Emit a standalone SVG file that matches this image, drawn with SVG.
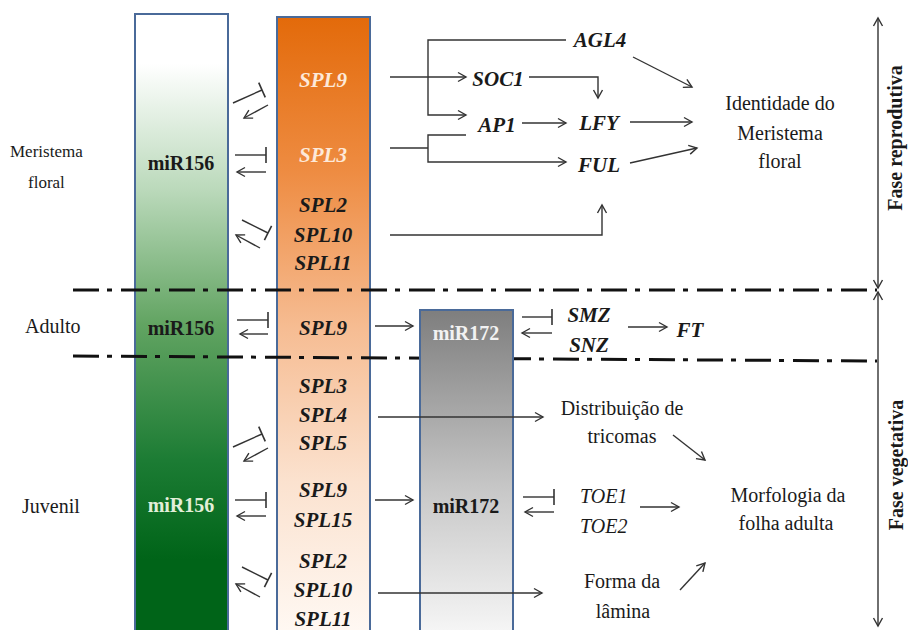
<svg xmlns="http://www.w3.org/2000/svg" width="908" height="630" viewBox="0 0 908 630">
<style>
text{font-family:"Liberation Serif","Times New Roman",serif;fill:#1a1a1a;font-size:20px}
.bi{font-weight:bold;font-style:italic;text-anchor:middle;font-size:21px}
.b{font-weight:bold;text-anchor:middle}
.rc{text-anchor:middle}
.i{font-style:italic}
.sm{font-size:17px}
.c{fill:none;stroke:#333;stroke-width:1.4}
.a{marker-end:url(#ah)}
.t{marker-end:url(#tb)}
.dd{fill:none;stroke:#111;stroke-width:3;stroke-dasharray:26 8 5 9}
.box{stroke:#4a6a99;stroke-width:2}
</style>
<defs>
<linearGradient id="gG" x1="0" y1="0" x2="0" y2="1">
<stop offset="0" stop-color="#ffffff"/>
<stop offset="0.08" stop-color="#ffffff"/>
<stop offset="0.28" stop-color="#bcdabc"/>
<stop offset="0.5" stop-color="#62a462"/>
<stop offset="0.72" stop-color="#1c7c34"/>
<stop offset="0.88" stop-color="#006418"/>
<stop offset="1" stop-color="#006418"/>
</linearGradient>
<linearGradient id="gO" x1="0" y1="0" x2="0" y2="1">
<stop offset="0" stop-color="#e36a0a"/>
<stop offset="0.25" stop-color="#ee8c42"/>
<stop offset="0.5" stop-color="#f6bc92"/>
<stop offset="0.75" stop-color="#fbe2cf"/>
<stop offset="1" stop-color="#fff9f4"/>
</linearGradient>
<linearGradient id="gY" x1="0" y1="0" x2="0" y2="1">
<stop offset="0" stop-color="#7e7e7e"/>
<stop offset="0.55" stop-color="#c8c8c8"/>
<stop offset="1" stop-color="#f8f8f8"/>
</linearGradient>
<marker id="ah" markerWidth="12" markerHeight="12" refX="10" refY="6" orient="auto-start-reverse" markerUnits="userSpaceOnUse">
<path d="M2,1.5 L10,6 L2,10.5" fill="none" stroke="#333" stroke-width="1.4"/>
</marker>
<marker id="tb" markerWidth="4" markerHeight="18" refX="2" refY="9" orient="auto" markerUnits="userSpaceOnUse">
<line x1="2" y1="1" x2="2" y2="17" stroke="#333" stroke-width="1.6"/>
</marker>
</defs>

<g id="box-miR156">
<rect class="box" x="135" y="14" width="93" height="620" fill="url(#gG)"/>
<text class="b" x="181" y="170">miR156</text>
<text class="b" x="181" y="335">miR156</text>
<text class="b" x="181" y="512" style="fill:#e2efd9">miR156</text>
</g>

<g id="box-SPL">
<rect class="box" x="277" y="17" width="93" height="620" fill="url(#gO)"/>
<text class="bi" x="323" y="87" style="fill:#fde9d9">SPL9</text>
<text class="bi" x="323" y="162" style="fill:#fde9d9">SPL3</text>
<text class="bi" x="323" y="212">SPL2</text>
<text class="bi" x="323" y="242">SPL10</text>
<text class="bi" x="323" y="270">SPL11</text>
<text class="bi" x="323" y="335">SPL9</text>
<text class="bi" x="323" y="393">SPL3</text>
<text class="bi" x="323" y="422">SPL4</text>
<text class="bi" x="323" y="450">SPL5</text>
<text class="bi" x="323" y="497">SPL9</text>
<text class="bi" x="323" y="527">SPL15</text>
<text class="bi" x="323" y="568">SPL2</text>
<text class="bi" x="323" y="597">SPL10</text>
<text class="bi" x="323" y="626">SPL11</text>
</g>

<g id="phase-lines">
<line class="dd" x1="73" y1="290" x2="877" y2="290"/>
<line class="dd" x1="73" y1="356" x2="877" y2="361"/>
</g>

<g id="box-miR172">
<rect class="box" x="420" y="310" width="93" height="330" fill="url(#gY)"/>
<text class="b" x="466" y="340" style="fill:#f2f2f2">miR172</text>
<text class="b" x="466" y="513">miR172</text>
</g>

<g id="labels-left">
<text class="sm" x="10" y="157">Meristema</text>
<text class="sm" x="28" y="188">floral</text>
<text x="25" y="333">Adulto</text>
<text x="22" y="513">Juvenil</text>
</g>

<g id="genes-reprod">
<text class="bi" x="600" y="47">AGL4</text>
<text class="bi" x="498" y="86">SOC1</text>
<text class="bi" x="497" y="132">AP1</text>
<text class="bi" x="599" y="130">LFY</text>
<text class="bi" x="599" y="172">FUL</text>
<text class="rc" x="780" y="110">Identidade do</text>
<text class="rc" x="780" y="140">Meristema</text>
<text class="rc" x="780" y="168">floral</text>
</g>

<g id="genes-adult">
<text class="bi" x="589" y="322">SMZ</text>
<text class="bi" x="589" y="352">SNZ</text>
<text class="bi" x="690" y="337">FT</text>
</g>

<g id="genes-juv">
<text class="rc" x="622" y="415">Distribuição de</text>
<text class="rc" x="622" y="443">tricomas</text>
<text class="i" x="580" y="503">TOE1</text>
<text class="i" x="580" y="533">TOE2</text>
<text class="rc" x="788" y="502">Morfologia da</text>
<text class="rc" x="786" y="530">folha adulta</text>
<text class="rc" x="622" y="588">Forma da</text>
<text class="rc" x="623" y="618">lâmina</text>
</g>

<g id="phase-labels">
<text class="b" transform="translate(902,138) rotate(-90)">Fase reprodutiva</text>
<text class="b" transform="translate(903,465) rotate(-90)">Fase vegetativa</text>
</g>

<g id="connectors">
<line class="c t" x1="233" y1="103" x2="262" y2="90"/>
<line class="c a" x1="268" y1="105" x2="244" y2="118"/>
<line class="c t" x1="235" y1="155" x2="266" y2="155"/>
<line class="c a" x1="266" y1="172" x2="237" y2="172"/>
<line class="c t" x1="242" y1="220" x2="268" y2="233"/>
<line class="c a" x1="260" y1="248" x2="236" y2="235"/>
<line class="c t" x1="237" y1="320" x2="268" y2="320"/>
<line class="c a" x1="268" y1="334" x2="240" y2="334"/>
<line class="c t" x1="233" y1="447" x2="262" y2="434"/>
<line class="c a" x1="268" y1="448" x2="244" y2="461"/>
<line class="c t" x1="235" y1="500" x2="266" y2="500"/>
<line class="c a" x1="266" y1="516" x2="237" y2="516"/>
<line class="c t" x1="242" y1="567" x2="268" y2="580"/>
<line class="c a" x1="260" y1="597" x2="236" y2="584"/>
<line class="c a" x1="390" y1="77" x2="466" y2="77"/>
<polyline class="c a" points="566,40 428,40 428,115 466,115"/>
<polyline class="c a" points="529,77 598,77 598,98"/>
<line class="c a" x1="522" y1="123" x2="566" y2="123"/>
<line class="c" x1="390" y1="148" x2="428" y2="148"/>
<polyline class="c a" points="466,135 428,135 428,162 566,162"/>
<polyline class="c a" points="390,235 602,235 602,205"/>
<line class="c a" x1="633" y1="57" x2="692" y2="87"/>
<line class="c a" x1="630" y1="122" x2="692" y2="122"/>
<line class="c a" x1="630" y1="163" x2="697" y2="148"/>
<line class="c a" x1="375" y1="326" x2="413" y2="326"/>
<line class="c t" x1="522" y1="317" x2="552" y2="317"/>
<line class="c a" x1="552" y1="333" x2="522" y2="333"/>
<line class="c a" x1="628" y1="327" x2="667" y2="327"/>
<line class="c a" x1="378" y1="417" x2="543" y2="417"/>
<line class="c a" x1="375" y1="500" x2="413" y2="500"/>
<line class="c t" x1="523" y1="497" x2="554" y2="497"/>
<line class="c a" x1="554" y1="512" x2="525" y2="512"/>
<line class="c a" x1="640" y1="507" x2="679" y2="507"/>
<line class="c a" x1="378" y1="593" x2="542" y2="593"/>
<line class="c a" x1="673" y1="435" x2="705" y2="460"/>
<line class="c a" x1="680" y1="590" x2="705" y2="563"/>
<line class="c" style="marker-start:url(#ah);marker-end:url(#ah)" x1="878" y1="18" x2="878" y2="288"/>
<line class="c" style="marker-start:url(#ah);marker-end:url(#ah)" x1="878" y1="292" x2="878" y2="626"/>
</g>
</svg>
